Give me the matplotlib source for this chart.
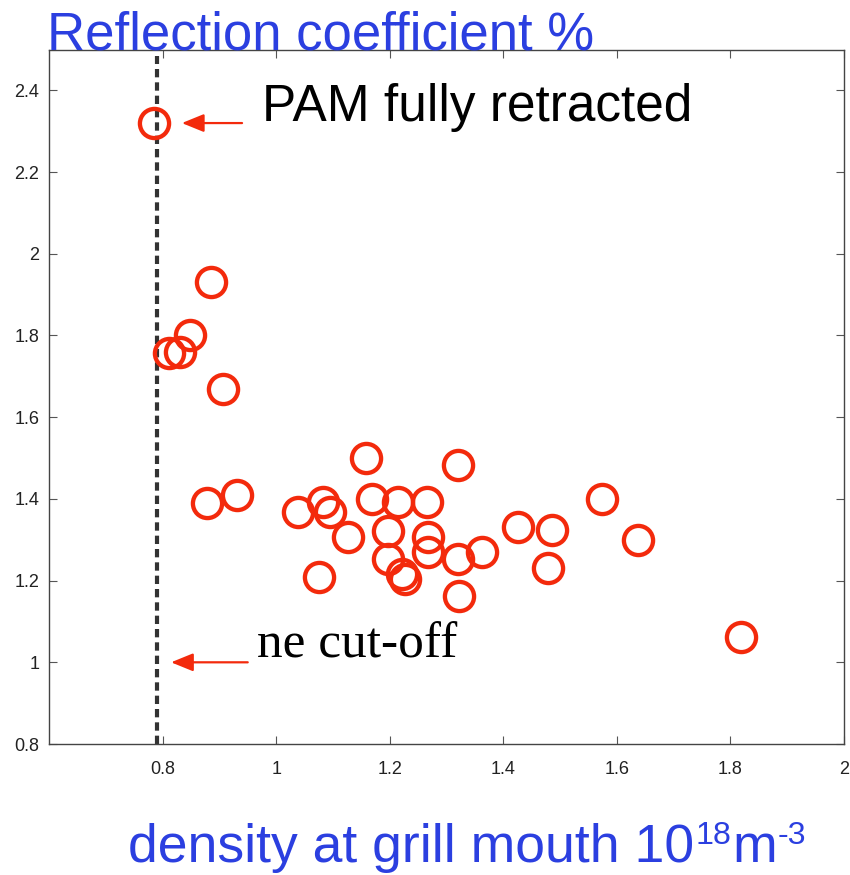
import matplotlib
matplotlib.use("Agg")
import matplotlib.pyplot as plt

plt.rcParams["font.family"] = ["Liberation Sans", "DejaVu Sans"]
plt.rcParams["lines.scale_dashes"] = False

# Grill-mouth density (1e18 m^-3) and measured reflection coefficient (%)
density = [0.785, 0.885, 0.848, 0.811, 0.831, 0.906, 0.878, 0.931,
           1.039, 1.082, 1.095, 1.127, 1.076, 1.158, 1.168, 1.215,
           1.265, 1.197, 1.268, 1.268, 1.197, 1.222, 1.227, 1.320,
           1.320, 1.322, 1.362, 1.426, 1.485, 1.479, 1.574, 1.638,
           1.818]
reflection = [2.32, 1.93, 1.80, 1.757, 1.76, 1.67, 1.39, 1.41,
              1.368, 1.393, 1.368, 1.307, 1.209, 1.499, 1.40, 1.393,
              1.393, 1.322, 1.307, 1.271, 1.254, 1.216, 1.205, 1.483,
              1.252, 1.162, 1.271, 1.332, 1.324, 1.23, 1.40, 1.30,
              1.061]

cutoff_density = 0.79
pam_point = (0.785, 2.32)

xticks = [0.8, 1.0, 1.2, 1.4, 1.6, 1.8, 2.0]
xticklabels = ["0.8", "1", "1.2", "1.4", "1.6", "1.8", "2"]
yticks = [0.8, 1.0, 1.2, 1.4, 1.6, 1.8, 2.0, 2.2, 2.4]
yticklabels = ["0.8", "1", "1.2", "1.4", "1.6", "1.8", "2", "2.2", "2.4"]

RED = "#f32a0c"
BLUE = "#2b3fe0"

fig = plt.figure(figsize=(8.5, 8.75), dpi=100)
ax = fig.add_axes([0.0576, 0.1497, 0.9354, 0.7937])

ax.set_xlim(0.6, 2.0)
ax.set_ylim(0.8, 2.5)

# cut-off density marker
ax.plot([cutoff_density, cutoff_density], [0.8, 2.485], color="#333333",
        lw=3.0, dashes=(6.0, 3.6), zorder=2)

ax.plot(density, reflection, linestyle="none", marker="o", ms=21,
        mfc="none", mec=RED, mew=3.1, zorder=3)

ax.set_xticks(xticks)
ax.set_xticklabels(xticklabels)
ax.set_yticks(yticks)
ax.set_yticklabels(yticklabels)
ax.tick_params(direction="in", length=6, width=0.8, color="#555555",
               top=True, right=True, labelsize=13, labelcolor="#222222")
ax.tick_params(axis="x", pad=12)
ax.tick_params(axis="y", pad=7)
for s in ax.spines.values():
    s.set_color("#444444")
    s.set_linewidth(1.0)

arrow_kw = dict(arrowstyle="-|>,head_length=1.35,head_width=0.55",
                color=RED, lw=1.6, shrinkA=0, shrinkB=0)
ax.annotate("", xy=(0.834, pam_point[1]), xytext=(0.94, pam_point[1]),
            arrowprops=arrow_kw)
ax.annotate("", xy=(0.815, 1.0), xytext=(0.95, 1.0), arrowprops=arrow_kw)

ax.text(0.975, 2.325, "PAM fully retracted", fontsize=37, color="black",
        ha="left", va="baseline", family=["Liberation Sans", "DejaVu Sans"])
ax.text(0.966, 1.012, "ne cut-off", fontsize=37, color="black",
        ha="left", va="baseline", family=["Liberation Serif", "DejaVu Serif"])

fig.text(47 / 850, 1 - 49 / 875, "Reflection coefficient %", fontsize=38,
         color=BLUE, ha="left", va="baseline")

# x-axis caption built from pieces so the superscripts keep plain hyphens
xl_size = 38.5
sup_size = xl_size * 0.6
W, H = fig.bbox.width, fig.bbox.height
y0 = (1 - 862 / 875) * H
base = fig.text(128 / W, y0 / H, "density at grill mouth 10",
                fontsize=xl_size, color=BLUE, ha="left", va="baseline")
fig.canvas.draw()
r = fig.canvas.get_renderer()
bb = base.get_window_extent(r)
sup1 = fig.text((bb.x1 + 1) / W, (y0 + 18) / H, "18", fontsize=sup_size,
                color=BLUE, ha="left", va="baseline")
bb1 = sup1.get_window_extent(r)
m = fig.text((bb1.x1 + 1) / W, y0 / H, "m", fontsize=xl_size, color=BLUE,
             ha="left", va="baseline")
bbm = m.get_window_extent(r)
fig.text((bbm.x1 + 1) / W, (y0 + 18) / H, "-3", fontsize=sup_size,
         color=BLUE, ha="left", va="baseline")

fig.savefig("out.png", dpi=100)
